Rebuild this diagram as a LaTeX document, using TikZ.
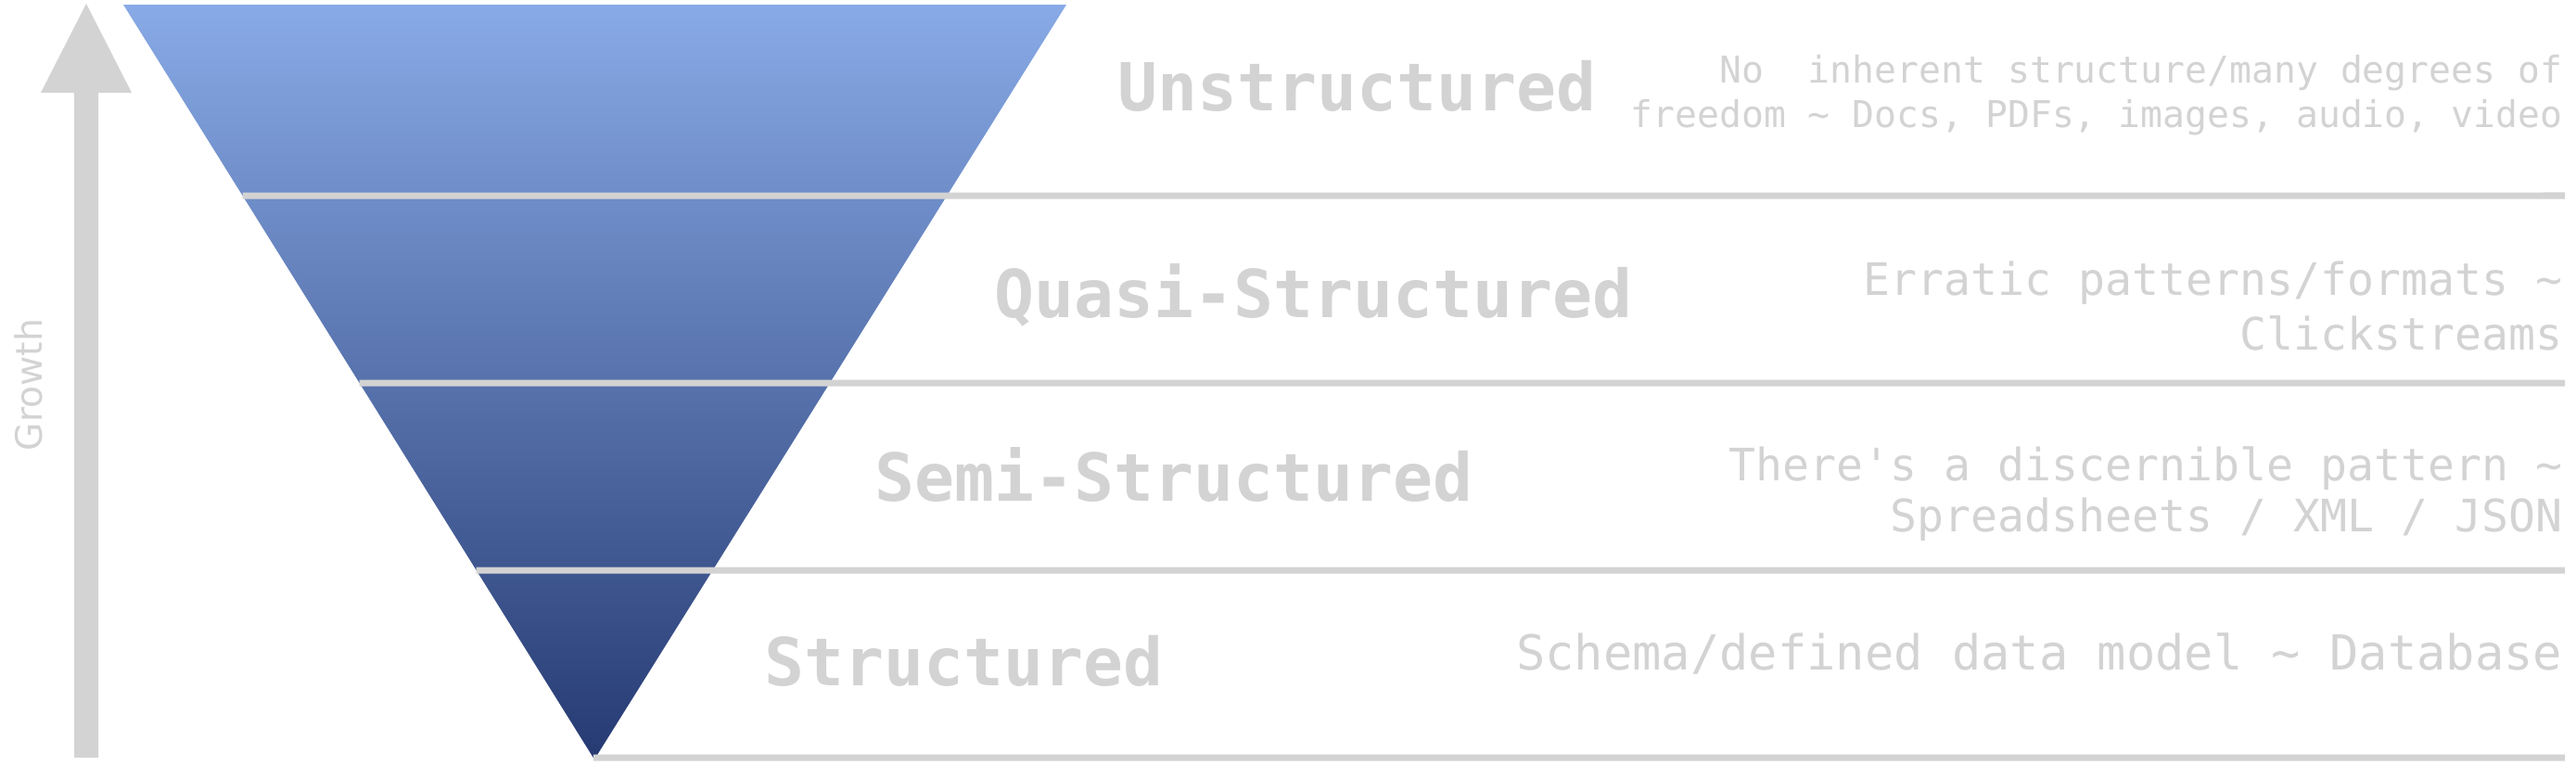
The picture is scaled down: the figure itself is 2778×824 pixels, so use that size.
\documentclass[tikz,border=0pt]{standalone}
\usepackage{fontspec}
\newfontfamily\monofont{DejaVu Sans Mono}
\newfontfamily\labelfont{DejaVu Sans}
\definecolor{funneltop}{RGB}{136,170,230}
\definecolor{funnelbot}{RGB}{38,58,114}
\definecolor{softgray}{RGB}{211,211,211}
\tikzset{
    sepline/.style={draw=softgray, line width=0.07cm},
    title/.style={anchor=base west, inner sep=0pt, text=softgray, font=\monofont\bfseries\fontsize{20.3}{24}\selectfont},
    desc/.style 2 args={anchor=base east, inner sep=0pt, text=softgray, align=right, font=\monofont\fontsize{#1}{#2}\selectfont}
}

\begin{document}
\begin{tikzpicture}[x=0.01cm, y=-0.01cm]
    \useasboundingbox (0,0) rectangle (2778,824);

    % funnel
    \coordinate (tl) at (133,5);
    \coordinate (tr) at (1150,5);
    \coordinate (apex) at (641,819);
    \shade[top color=funneltop, bottom color=funnelbot] (tl) -- (tr) -- (apex) -- cycle;

    % separators
    \foreach \y in {211,413,615,817}
        \draw[sepline] (intersection of tl--apex and {0,\y}--{100,\y}) -- (2766,\y);

    % growth arrow
    \fill[softgray] (80,817) -- (80,100) -- (44,100) -- (93,4) -- (142,100) -- (106,100) -- (106,817) -- cycle;
    \node[rotate=90, inner sep=0pt, text=softgray, font=\labelfont\fontsize{11.2}{13}\selectfont] (growth) at (31,415) {Growth};

    % levels
    \node[title] (unstr) at (1205,120) {Unstructured};
    \node[title] (quasi) at (1072,342) {Quasi-Structured};
    \node[title] (semi) at (943,540) {Semi-Structured};
    \node[title] (struct) at (824,739) {Structured};

    \node[desc={11.3}{13.4}] (unstrdesc) at (2764,137) {No\ \ inherent structure/many degrees of\\freedom \textasciitilde{} Docs, PDFs, images, audio, video};
    \node[desc={13.7}{16.6}] (quasidesc) at (2764,377) {Erratic patterns/formats \textasciitilde\\Clickstreams};
    \node[desc={13.7}{15.6}] (semidesc) at (2764,573) {There's a discernible pattern \textasciitilde\\Spreadsheets / XML / JSON};
    \node[desc={14.8}{17}] (structdesc) at (2764,722) {Schema/defined data model \textasciitilde{} Database};
\end{tikzpicture}
\end{document}
